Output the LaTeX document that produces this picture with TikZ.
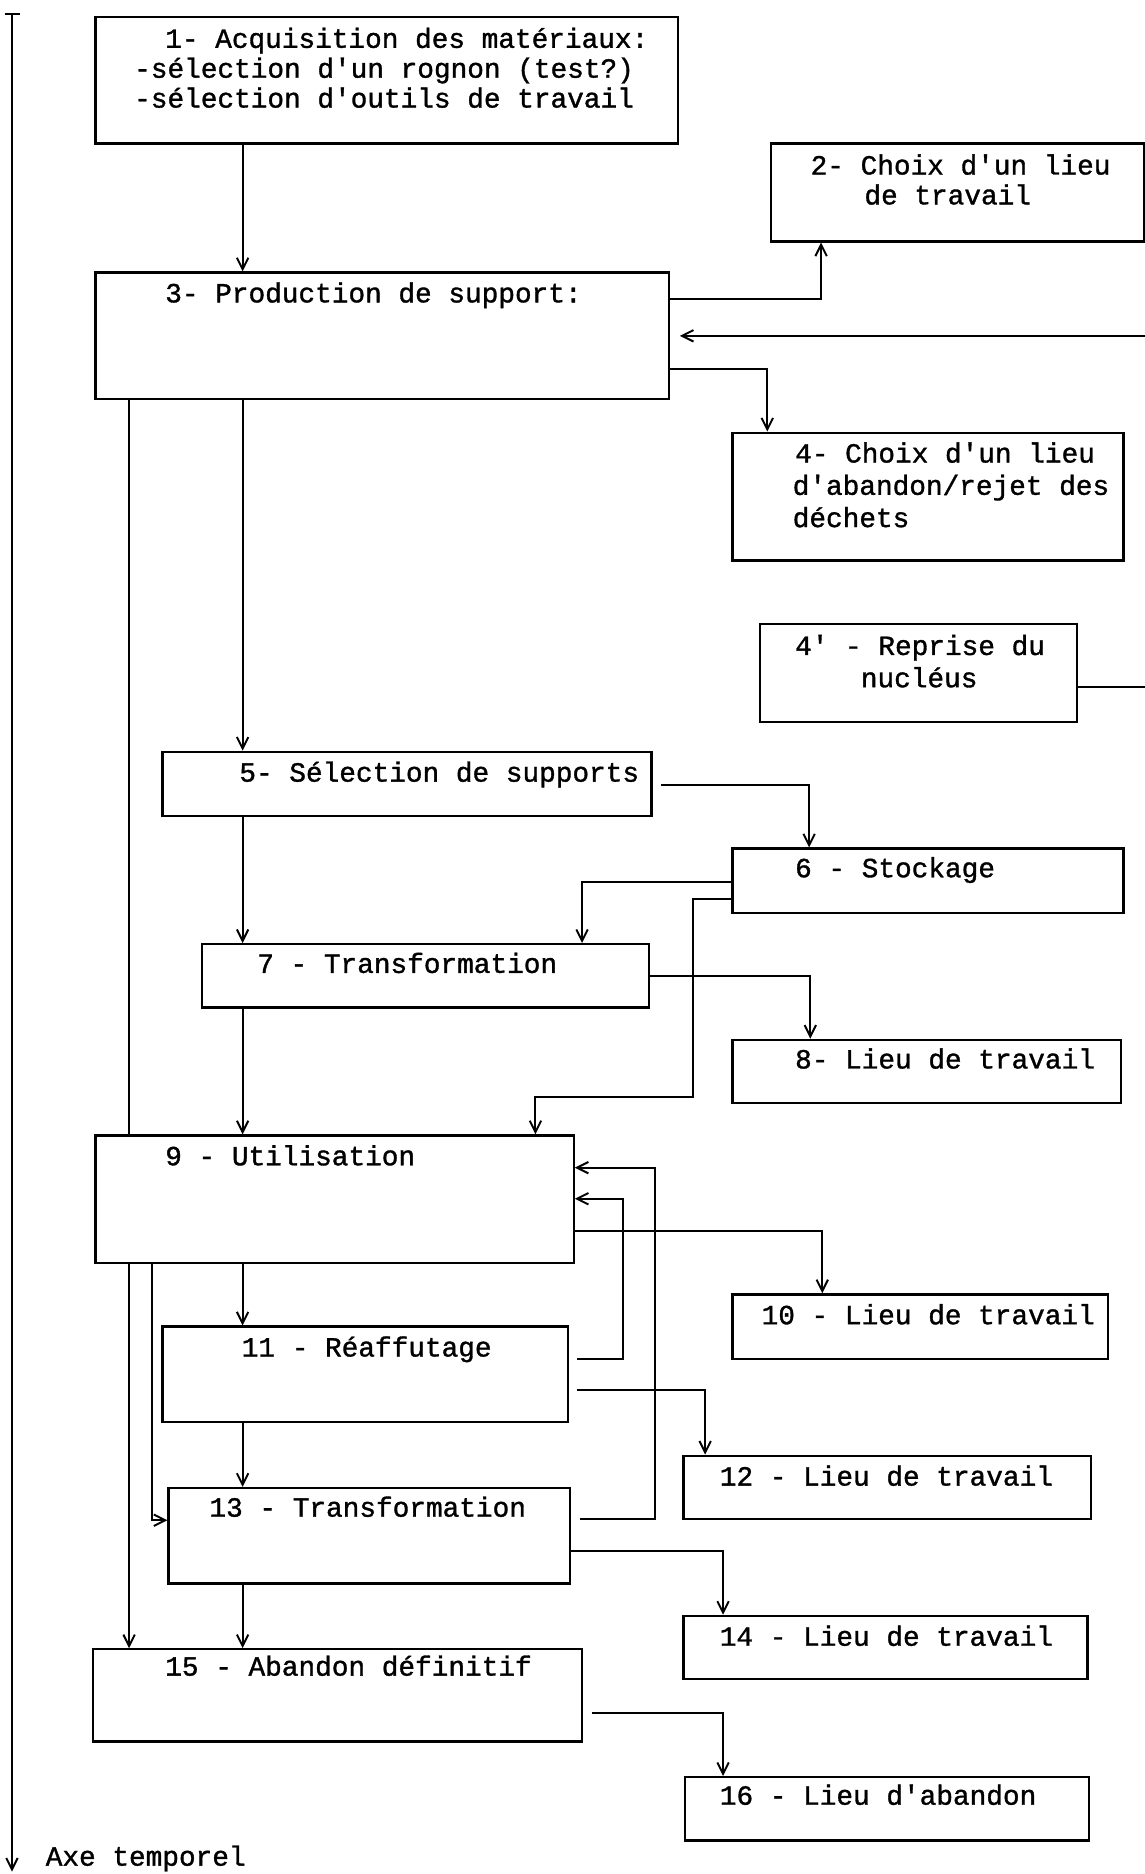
\documentclass[tikz,border=0pt]{standalone}
\usepackage{fontspec}
\newfontfamily\monofam[FakeBold=1.2]{Liberation Mono}
\usetikzlibrary{arrows.meta,fit,backgrounds}
\newcommand{\mkbox}[5]{%
  \coordinate (#1nw) at (#2,#3);
  \coordinate (#1se) at (#4,#5);
  \node[box,fit=(#1nw)(#1se)] (#1) {};}
\tikzset{
  box/.style={draw,line width=1.3pt,rectangle,inner sep=0pt,fill=white},
  txt/.style={anchor=base west,inner sep=0pt,font={\monofam\fontsize{15.8pt}{17pt}\selectfont}},
  arr/.style={-{Straight Barb[length=6.5pt,width=6.5pt]},line width=1.1pt},
  ln/.style={line width=1.1pt},
  gapstart/.style={shorten <=0.17cm},
  gapend/.style={shorten >=0.19cm}
}
\begin{document}
\begin{tikzpicture}[x=0.023904cm,y=-0.023904cm]
\useasboundingbox (0,0) rectangle (958,1568);
% boxes
\mkbox{b1}{80}{14}{567}{120}
\mkbox{b2}{645}{120}{957}{202}
\mkbox{b3}{80}{228}{560}{334}
\mkbox{b4}{613}{362}{940}{469}
\mkbox{b4p}{636}{522}{901}{604}
\mkbox{b5}{136}{629}{545}{683}
\mkbox{b6}{613}{710}{940}{764}
\mkbox{b7}{169}{790}{543}{843}
\mkbox{b8}{613}{870}{938}{923}
\mkbox{b9}{80}{950}{480}{1057}
\mkbox{b10}{613}{1083}{927}{1137}
\mkbox{b11}{136}{1110}{475}{1190}
\mkbox{b12}{572}{1218}{913}{1271}
\mkbox{b13}{141}{1245}{477}{1325}
\mkbox{b14}{572}{1352}{910}{1405}
\mkbox{b15}{78}{1380}{487}{1457}
\mkbox{b16}{573}{1487}{911}{1540}
% texts
\node[txt] (t1a) at (138,40) {1- Acquisition des matériaux:};
\node[txt] (t1b) at (112,65) {-sélection d'un rognon (test?)};
\node[txt] (t1c) at (112,90) {-sélection d'outils de travail};
\node[txt] (t2a) at (678,146) {2- Choix d'un lieu};
\node[txt] (t2b) at (723,171) {de travail};
\node[txt] (t3) at (138,253) {3- Production de support:};
\node[txt] (t4a) at (665,387) {4- Choix d'un lieu};
\node[txt] (t4b) at (663,414) {d'abandon/rejet des};
\node[txt] (t4c) at (663,441) {déchets};
\node[txt] (t4pa) at (665,548) {4' - Reprise du};
\node[txt] (t4pb) at (720,575) {nucléus};
\node[txt] (t5) at (200,654) {5- Sélection de supports};
\node[txt] (t6) at (665,734) {6 - Stockage};
\node[txt] (t7) at (215,814) {7 - Transformation};
\node[txt] (t8) at (665,894) {8- Lieu de travail};
\node[txt] (t9) at (138,975) {9 - Utilisation};
\node[txt] (t10) at (637,1108) {10 - Lieu de travail};
\node[txt] (t11) at (202,1135) {11 - Réaffutage};
\node[txt] (t12) at (602,1243) {12 - Lieu de travail};
\node[txt] (t13) at (175,1269) {13 - Transformation};
\node[txt] (t14) at (602,1377) {14 - Lieu de travail};
\node[txt] (t15) at (138,1402) {15 - Abandon définitif};
\node[txt] (t16) at (602,1510) {16 - Lieu d'abandon};
\node[txt] (tax) at (38,1561) {Axe temporel};
% axis
\coordinate (axtop) at (10,12);
\coordinate (axbot) at (10,1566);
\coordinate (tickl) at (4,12);
\coordinate (tickr) at (17,12);
\begin{scope}[on background layer]
\draw[arr] (axtop) -- (axbot);
\draw[ln] (tickl) -- (tickr);
\draw[arr] (b1.south -| 203,0) -- (b3.north -| 203,0);
\draw[arr] (b3.east |- 0,250) -| (b2.south -| 687,0);
\draw[arr] (b3.east |- 0,309) -| (b4.north -| 642,0);
\draw[arr,gapend] (b4p.east |- 0,575) -- (968,575) -- (968,281) -- (b3.east |- 0,281);
\draw[arr] (b3.south -| 108,0) -- (b15.north -| 108,0);
\draw[arr] (b3.south -| 203,0) -- (b5.north -| 203,0);
\draw[arr,gapstart] (b5.east |- 0,657) -| (b6.north -| 677,0);
\draw[arr] (b6.west |- 0,738) -| (b7.north -| 487,0);
\draw[arr] (b6.west |- 0,752) -| (580,918) -| (b9.north -| 448,0);
\draw[arr] (b5.south -| 203,0) -- (b7.north -| 203,0);
\draw[arr] (b7.east |- 0,817) -| (b8.north -| 678,0);
\draw[arr] (b7.south -| 203,0) -- (b9.north -| 203,0);
\draw[arr] (b9.east |- 0,1030) -| (b10.north -| 688,0);
\draw[arr] (b9.south -| 203,0) -- (b11.north -| 203,0);
\draw[arr,gapstart] (b11.east |- 0,1137) -| (521,1003) -- (b9.east |- 0,1003);
\draw[arr,gapstart] (b13.east |- 0,1271) -| (548,977) -- (b9.east |- 0,977);
\draw[arr,gapstart] (b11.east |- 0,1163) -| (b12.north -| 590,0);
\draw[arr] (b9.south -| 127,0) |- (b13.west |- 0,1272);
\draw[arr] (b11.south -| 203,0) -- (b13.north -| 203,0);
\draw[arr] (b13.east |- 0,1298) -| (b14.north -| 605,0);
\draw[arr] (b13.south -| 203,0) -- (b15.north -| 203,0);
\draw[arr,gapstart] (b15.east |- 0,1433) -| (b16.north -| 605,0);
\end{scope}
\end{tikzpicture}
\end{document}
